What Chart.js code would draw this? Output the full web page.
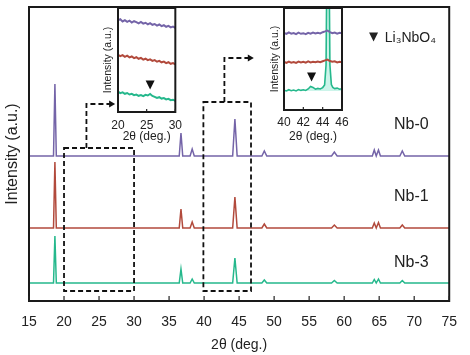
<!DOCTYPE html>
<html><head><meta charset="utf-8">
<script src="https://cdn.jsdelivr.net/npm/chart.js@4.4.1/dist/chart.umd.min.js"></script>
<style>
html,body{margin:0;padding:0;background:#fff;}
#wrap{position:relative;width:470px;height:355px;overflow:hidden;background:#fff;}
canvas{position:absolute;}
</style></head><body>
<div id="wrap">
<canvas id="main" width="470" height="355" style="left:0;top:0;width:470px;height:355px"></canvas>
<canvas id="in1" width="96" height="145" style="left:92px;top:0;width:96px;height:145px"></canvas>
<canvas id="in2" width="96" height="145" style="left:258px;top:0;width:96px;height:145px"></canvas>
</div>
<script>
// ---------- data ----------
const seriesNames = ['Nb-0', 'Nb-1', 'Nb-3'];
const mainTicks = [15, 20, 25, 30, 35, 40, 45, 50, 55, 60, 65, 70, 75];
const peakPos = [18.7, 36.7, 38.3, 44.4, 48.6, 58.6, 64.3, 64.9, 68.3];
const peakHalfWidth = [0.2, 0.25, 0.3, 0.32, 0.35, 0.4, 0.28, 0.28, 0.35];
const nb0Peaks = [72, 23, 7, 37, 5, 4, 6, 6, 5];
const nb1Peaks = [66, 19, 6, 31, 4, 3, 5, 5.5, 3];
const nb3Peaks = [47, 14, 4, 25, 3, 2.5, 3.5, 4, 2.5];
const baselines = [145, 73, 18];

const inset1Ticks = [20, 25, 30];
const inset1X = [20,20.4,20.8,21.2,21.6,22,22.4,22.8,23.2,23.6,24,24.4,24.8,25.2,25.6,26,26.4,26.8,27.2,27.6,28,28.4,28.8,29.2,29.6,30];
const inset1Nb0 = [91.5,92.8,90.6,91.9,90.2,91.4,89.5,90.8,89.9,88.6,90.1,88.4,89.2,87.6,88.9,87.2,88.0,86.4,87.5,85.9,86.8,85.2,86.1,84.6,85.4,84.2];
const inset1Nb1 = [57.2,55.8,56.9,55.1,56.3,54.6,55.5,53.9,54.8,53.2,54.1,52.4,53.3,51.8,52.6,51.1,51.9,50.3,51.2,49.7,50.4,48.9,49.8,48.2,48.9,47.6];
const inset1Nb3 = [20.3,18.9,19.6,18.2,19.0,17.5,18.1,16.8,17.4,16.2,16.9,15.8,17.2,16.5,18.0,16.1,15.2,14.0,14.8,13.4,13.9,12.6,13.2,11.8,12.3,11.2];

const inset2Ticks = [40, 42, 44, 46];
const inset2X = [40,40.25,40.5,40.75,41,41.25,41.5,41.75,42,42.25,42.5,42.75,43,43.25,43.5,43.75,44,44.25,44.5,44.75,45,45.25,45.5,45.75,46];
const inset2Nb0 = [77.2,76.1,77.6,76.4,77.0,75.9,77.3,76.2,76.8,75.8,77.1,76.3,77.4,76.5,77.2,76.6,77.8,78.6,79.5,77.9,76.8,77.5,76.4,77.2,76.6];
const inset2Nb1 = [48.1,47.2,48.5,47.4,48.0,47.1,48.4,47.5,48.2,47.3,48.6,47.6,48.3,47.7,48.5,47.9,48.8,49.6,50.4,49.0,48.2,48.7,47.6,48.3,47.8];
const inset2Nb3X = [40,40.25,40.5,40.75,41,41.25,41.5,41.75,42,42.25,42.5,42.75,43,43.25,43.5,43.75,44,44.2,44.35,44.45,44.65,44.75,44.9,45.05,45.25,45.5,45.75,46];
const inset2Nb3 = [19.8,19.0,20.3,19.3,20.0,19.1,20.4,19.6,20.2,19.5,21.0,23.6,22.6,20.8,21.6,21.0,22.4,25.0,45,160,160,45,25.5,22.6,21.4,21.9,20.8,21.3];

const markerLabel = 'Li₃NbO₄';

// ---------- styles ----------
const F = '"Liberation Sans", Arial, sans-serif';
const TXT = '#222';
const COLORS = ['#7464a8', '#b24a3c', '#25b88c'];

function buildTrace(base, heights) {
  const pts = [{x: 15, y: base}];
  peakPos.forEach((p, i) => {
    const w = peakHalfWidth[i];
    pts.push({x: p - w, y: base}, {x: p, y: base + heights[i]}, {x: p + w, y: base});
  });
  pts.push({x: 75, y: base});
  return pts;
}
function zip(xs, ys) { return xs.map((x, i) => ({x: x, y: ys[i]})); }
function fixedTicks(arr) { return function (s) { s.ticks = arr.map(v => ({value: v})); }; }

function triangle(ctx, cx, cy, w, h) {
  ctx.beginPath();
  ctx.moveTo(cx - w / 2, cy - h / 2);
  ctx.lineTo(cx + w / 2, cy - h / 2);
  ctx.lineTo(cx, cy + h / 2);
  ctx.closePath();
  ctx.fill();
}
function inwardTicks(chart, len) {
  const {ctx, chartArea: a} = chart;
  const sx = chart.scales.x;
  ctx.save();
  ctx.strokeStyle = '#222';
  ctx.lineWidth = 1.2;
  sx.ticks.forEach(t => {
    const px = sx.getPixelForValue(t.value);
    ctx.beginPath(); ctx.moveTo(px, a.bottom); ctx.lineTo(px, a.bottom - len); ctx.stroke();
  });
  ctx.restore();
}
function frame(chart, lw) {
  const {ctx, chartArea: a} = chart;
  ctx.save();
  ctx.strokeStyle = '#1a1a1a';
  ctx.lineWidth = lw;
  ctx.strokeRect(a.left, a.top, a.right - a.left, a.bottom - a.top);
  ctx.restore();
}

// ---------- main chart ----------
const mainDecor = {
  id: 'mainDecor',
  afterDatasetsDraw(chart) {
    const {ctx} = chart;
    const sx = chart.scales.x, sy = chart.scales.y;
    const X = v => sx.getPixelForValue(v), Y = v => sy.getPixelForValue(v);
    frame(chart, 2);
    inwardTicks(chart, 5);
    ctx.save();
    ctx.strokeStyle = '#111';
    ctx.fillStyle = '#111';
    ctx.lineWidth = 1.8;
    ctx.setLineDash([5, 3]);
    ctx.strokeRect(X(20), Y(153), X(30) - X(20), Y(10) - Y(153));
    ctx.strokeRect(X(39.9), Y(199), X(46.7) - X(39.9), Y(10) - Y(199));
    ctx.beginPath();
    ctx.moveTo(X(23.2), Y(153)); ctx.lineTo(X(23.2), Y(197)); ctx.lineTo(X(26.6), Y(197));
    ctx.moveTo(X(42.9), Y(199)); ctx.lineTo(X(42.9), Y(243)); ctx.lineTo(X(46.4), Y(243));
    ctx.stroke();
    ctx.setLineDash([]);
    [[X(27.3), Y(197)], [X(47.1), Y(243)]].forEach(([tx, ty]) => {
      ctx.beginPath();
      ctx.moveTo(tx, ty); ctx.lineTo(tx - 6, ty - 3.5); ctx.lineTo(tx - 6, ty + 3.5); ctx.closePath(); ctx.fill();
    });
    // series labels
    ctx.fillStyle = TXT;
    ctx.font = '16px ' + F;
    ctx.textAlign = 'center';
    ctx.textBaseline = 'middle';
    const labelY = [176, 104, 38];
    seriesNames.forEach((n, i) => ctx.fillText(n, X(69.6), Y(labelY[i])));
    // legend
    triangle(ctx, X(64.2), Y(264), 9, 9);
    ctx.font = '14px ' + F;
    ctx.textAlign = 'left';
    ctx.fillText(markerLabel, X(65.8), Y(263));
    ctx.restore();
  }
};

new Chart(document.getElementById('main'), {
  type: 'line',
  data: {
    datasets: [nb0Peaks, nb1Peaks, nb3Peaks].map((h, i) => ({
      label: seriesNames[i],
      data: buildTrace(baselines[i], h),
      borderColor: COLORS[i],
      borderWidth: 1.5,
      pointRadius: 0,
      tension: 0,
      fill: false
    }))
  },
  options: {
    responsive: false, animation: false, devicePixelRatio: 1,
    layout: {padding: {top: 7, right: 9, left: 0, bottom: 0}},
    plugins: {legend: {display: false}, tooltip: {enabled: false}},
    scales: {
      x: {
        type: 'linear', min: 15, max: 75,
        afterBuildTicks: fixedTicks(mainTicks),
        afterFit(s) { s.height = 54; },
        grid: {display: false, drawTicks: false},
        border: {display: false},
        ticks: {padding: 13, font: {family: F, size: 14}, color: TXT, maxRotation: 0, autoSkip: false, callback: v => String(v)},
        title: {display: true, text: '2θ (deg.)', font: {family: F, size: 14}, color: TXT, padding: {top: 0, bottom: 1}}
      },
      y: {
        min: 0, max: 294,
        afterFit(s) { s.width = 29; },
        grid: {display: false, drawTicks: false},
        border: {display: false},
        ticks: {display: false},
        title: {display: true, text: 'Intensity (a.u.)', font: {family: F, size: 16}, color: TXT, padding: {top: 3, bottom: 0}}
      }
    }
  },
  plugins: [mainDecor]
});

// ---------- insets ----------
function insetDecor(id, markX, markY) {
  return {
    id: id,
    beforeDatasetsDraw(chart) {
      const {ctx, chartArea: a} = chart;
      ctx.save(); ctx.fillStyle = '#fff';
      ctx.fillRect(a.left, a.top, a.right - a.left, a.bottom - a.top);
      ctx.restore();
    },
    afterDatasetsDraw(chart) {
      const {ctx} = chart;
      frame(chart, 2);
      inwardTicks(chart, 3);
      ctx.save();
      ctx.fillStyle = '#111';
      triangle(ctx, chart.scales.x.getPixelForValue(markX), chart.scales.y.getPixelForValue(markY), 9, 9);
      ctx.restore();
    }
  };
}
function insetOptions(xmin, xmax, ymax, ticks, padRight, xHeight, titlePad, tickPad) {
  return {
    responsive: false, animation: false, devicePixelRatio: 1,
    layout: {padding: {top: 8, right: padRight, left: 0, bottom: 0}},
    plugins: {legend: {display: false}, tooltip: {enabled: false}},
    scales: {
      x: {
        type: 'linear', min: xmin, max: xmax,
        afterBuildTicks: fixedTicks(ticks),
        afterFit(s) { s.height = xHeight; },
        grid: {display: false, drawTicks: false},
        border: {display: false},
        ticks: {padding: tickPad, font: {family: F, size: 12}, color: TXT, maxRotation: 0, autoSkip: false, callback: v => String(v)},
        title: {display: true, text: '2θ (deg.)', font: {family: F, size: 12}, color: TXT, padding: {top: 0, bottom: 1}}
      },
      y: {
        min: 0, max: ymax,
        afterFit(s) { s.width = 26; },
        grid: {display: false, drawTicks: false},
        border: {display: false},
        ticks: {display: false},
        title: {display: true, text: 'Intensity (a.u.)', font: {family: F, size: 10.5}, color: TXT, padding: {top: titlePad, bottom: 0}}
      }
    }
  };
}
function insetSet(data, i, extra) {
  return Object.assign({data: data, borderColor: COLORS[i], borderWidth: 2, pointRadius: 0, tension: 0, fill: false}, extra || {});
}

new Chart(document.getElementById('in1'), {
  type: 'line',
  data: {datasets: [
    insetSet(zip(inset1X, inset1Nb0), 0),
    insetSet(zip(inset1X, inset1Nb1), 1),
    insetSet(zip(inset1X, inset1Nb3), 2)
  ]},
  options: insetOptions(20, 30, 104, inset1Ticks, 9, 33, 10, 6),
  plugins: [insetDecor('in1Decor', 25.6, 27)]
});

new Chart(document.getElementById('in2'), {
  type: 'line',
  data: {datasets: [
    insetSet(zip(inset2X, inset2Nb0), 0),
    insetSet(zip(inset2X, inset2Nb1), 1),
    insetSet(zip(inset2Nb3X, inset2Nb3), 2, {borderWidth: 1.6, fill: {value: 19}, backgroundColor: 'rgba(195,242,230,0.85)'})
  ]},
  options: insetOptions(40, 46, 102, inset2Ticks, 12, 35, 11, 5),
  plugins: [insetDecor('in2Decor', 42.85, 33)]
});
</script>
</body></html>
